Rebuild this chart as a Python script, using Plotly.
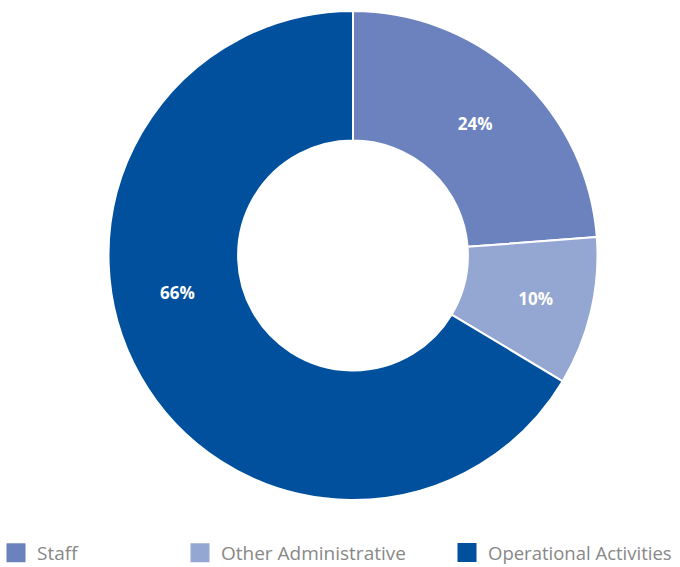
import math
import plotly.graph_objects as go

labels = ["Staff", "Other Administrative", "Operational Activities"]
values = [23.8, 9.8, 66.4]
colors = ["#6b82be", "#94a6d2", "#00509e"]

W, H = 680, 567
# pie placement (pixels)
px_left, px_right, px_top, px_bottom = 108, 598, 11, 500
hole = 0.47
big_label_angle = 258  # degrees clockwise from 12 o'clock, for the large slice label

total = sum(values)
big_idx = values.index(max(values))
templates = ["%{percent:.0%}" if i != big_idx else "" for i in range(len(values))]

fig = go.Figure()
fig.add_trace(go.Pie(
    labels=labels,
    values=values,
    hole=hole,
    sort=False,
    direction="clockwise",
    rotation=0,
    marker=dict(colors=colors, line=dict(color="white", width=2)),
    texttemplate=templates,
    textposition="inside",
    insidetextorientation="horizontal",
    textfont=dict(family="Open Sans", size=17, color="white", weight="bold"),
    domain=dict(x=[px_left / W, px_right / W], y=[1 - px_bottom / H, 1 - px_top / H]),
    showlegend=False,
    hoverinfo="label+percent",
))

# label for the large slice
cx = (px_left + px_right) / 2
cy = (px_top + px_bottom) / 2
R = min(px_right - px_left, px_bottom - px_top) / 2
rmid = R * (1 + hole) / 2
a = math.radians(big_label_angle)
lx = cx + rmid * math.sin(a)
ly = cy - rmid * math.cos(a)
fig.add_annotation(
    x=lx / W, y=1 - ly / H, xref="paper", yref="paper",
    text=f"{round(100 * values[big_idx] / total)}%", showarrow=False,
    font=dict(family="Open Sans", size=17, color="white", weight="bold"),
    xanchor="center", yanchor="middle",
)

# legend entries in three separate legends
legend_symbol_centers = [16, 200, 467]
legend_font_sizes = [19, 19, 18.5]
legend_names = ["legend", "legend2", "legend3"]
item_w = 32
for lab, col, lname in zip(labels, colors, legend_names):
    fig.add_trace(go.Scatter(
        x=[None], y=[None], mode="markers", name=lab,
        marker=dict(symbol="square", size=16, color=col, line=dict(color=col, width=3)),
        legend=lname, showlegend=True, hoverinfo="skip",
    ))

legend_y = 1 - 553 / H
layout_legends = {}
for lname, sc, fs in zip(legend_names, legend_symbol_centers, legend_font_sizes):
    layout_legends[lname] = dict(
        orientation="h", yanchor="middle", y=legend_y, xanchor="left",
        x=(sc - (item_w / 2 + 5)) / W,
        font=dict(family="Open Sans", size=fs, color="#888888"),
        itemwidth=item_w, bgcolor="rgba(0,0,0,0)",
    )

fig.update_layout(
    width=W, height=H,
    margin=dict(l=0, r=0, t=0, b=0, autoexpand=False),
    paper_bgcolor="white",
    plot_bgcolor="white",
    font=dict(family="Open Sans", color="#888888"),
    xaxis=dict(visible=False),
    yaxis=dict(visible=False),
    **layout_legends,
)

fig.write_html("out.html")
